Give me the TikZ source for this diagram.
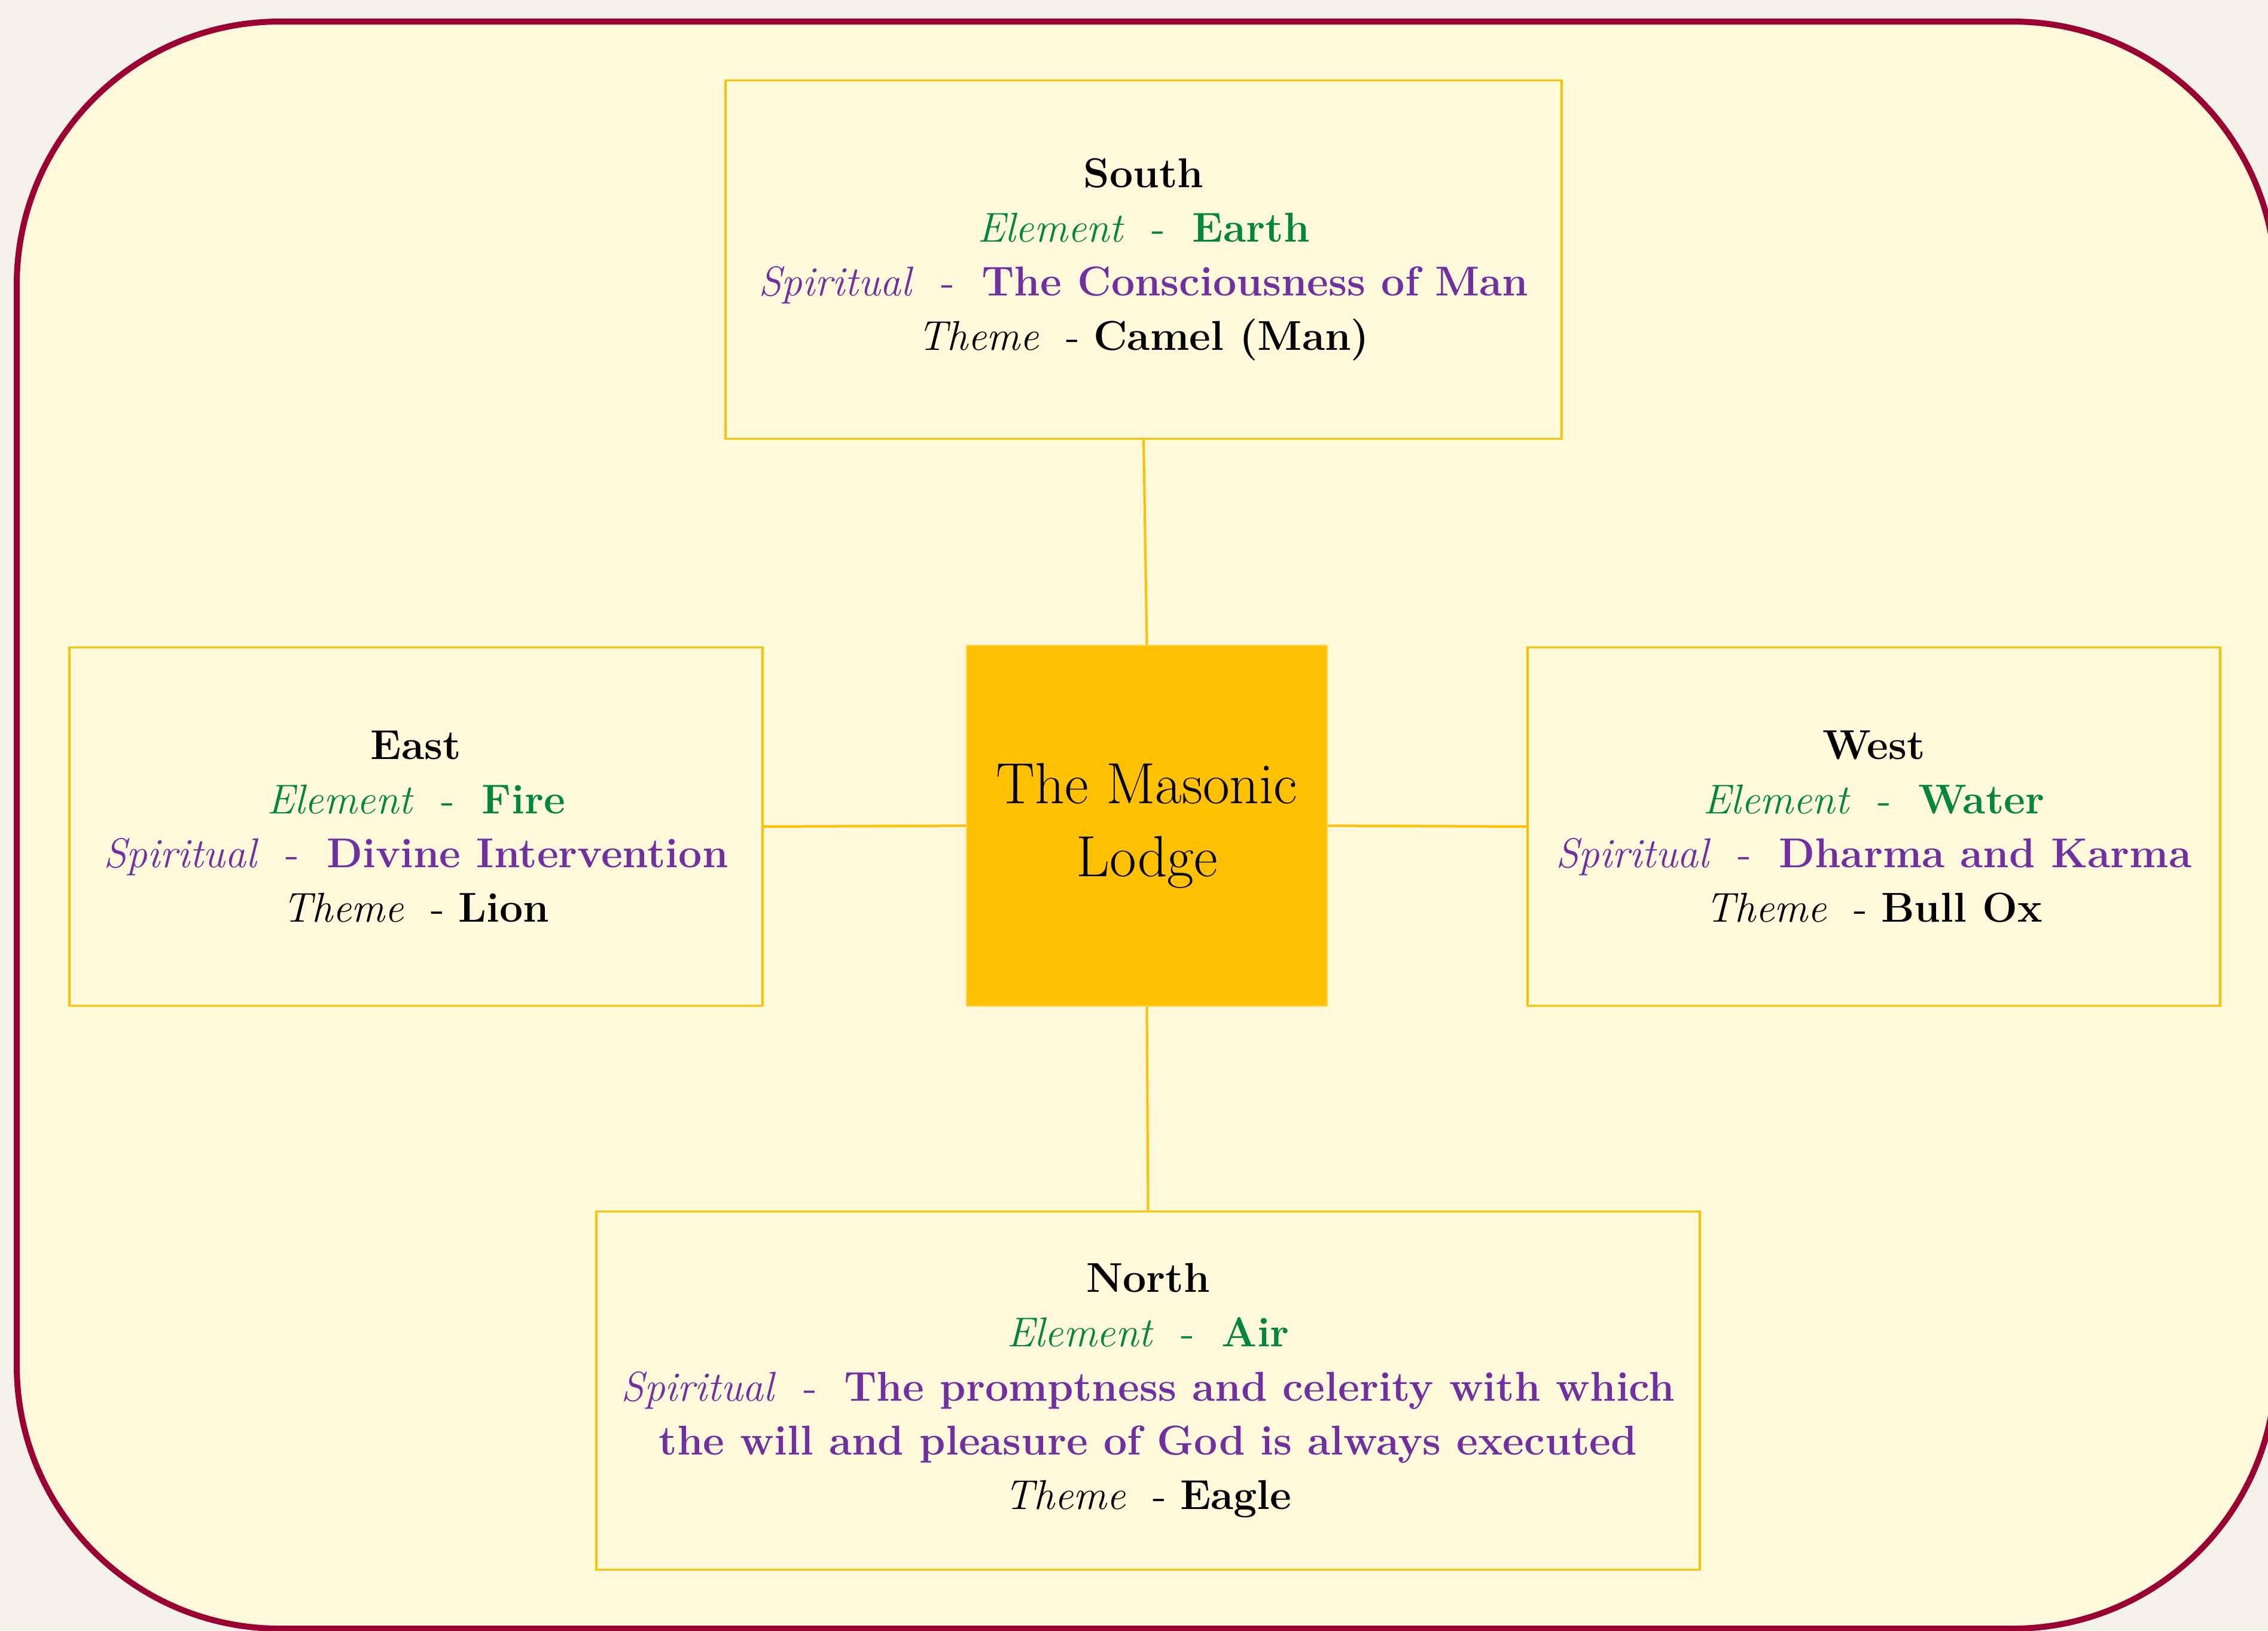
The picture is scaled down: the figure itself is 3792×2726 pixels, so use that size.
\documentclass[tikz,border=0pt]{standalone}
\definecolor{bgout}{HTML}{F4F1E9}
\definecolor{innerfill}{HTML}{FFF8DA}
\definecolor{framecol}{HTML}{9B0033}
\definecolor{gold}{HTML}{FFC000}
\definecolor{elgreen}{HTML}{00873C}
\definecolor{sppurple}{HTML}{7030A0}
\newcommand{\elline}[1]{{\color{elgreen}\textit{Element}\ \ -\ \ \textbf{#1}}}
\newcommand{\spline}[1]{{\color{sppurple}\textit{Spiritual}\ \ -\ \ \textbf{#1}}}
\newcommand{\thline}[1]{\textit{Theme}\ \ -\ \textbf{#1}}
\begin{document}
\begin{tikzpicture}[x=0.2bp,y=-0.2bp,
  sidebox/.style={draw=gold, line width=0.75bp, fill=innerfill, align=center,
    inner sep=0pt, minimum height=119.8bp,
    font=\fontsize{14}{18.2}\selectfont},
  hubbox/.style={draw=gold!70!white, line width=0.4bp, fill=gold, align=center,
    inner sep=0pt, minimum width=120.6bp, minimum height=120.6bp,
    font=\fontsize{19.5}{24.5}\selectfont},
  conn/.style={draw=gold, line width=0.8bp}]
\fill[bgout] (0,0) rectangle (3792,2726);
\useasboundingbox (0,0) rectangle (3792,2726);
\draw[framecol, line width=2bp, fill=innerfill, rounded corners=88bp] (28,36) rectangle (3805,2723);

\node[hubbox] (C) at (1917.5,1380.5) {The Masonic\\Lodge};

\node[sidebox, minimum width=279.6bp] (S) at (1912,434)
  {\textbf{South}\\\elline{Earth}\\\spline{The Consciousness of Man}\\\thline{Camel (Man)}};
\node[sidebox, minimum width=231.8bp] (E) at (695.5,1382)
  {\textbf{East}\\\elline{Fire}\\\spline{Divine Intervention}\\\thline{Lion}};
\node[sidebox, minimum width=231.6bp] (W) at (3133,1382)
  {\textbf{West}\\\elline{Water}\\\spline{Dharma and Karma}\\\thline{Bull Ox}};
\node[sidebox, minimum width=369bp] (N) at (1919.5,2325)
  {\textbf{North}\\\elline{Air}\\{\color{sppurple}\textit{Spiritual}\ \ -\ \ \textbf{The promptness and celerity with which}}\\{\color{sppurple}\textbf{the will and pleasure of God is always executed}}\\\thline{Eagle}};

\draw[conn] (S.south) -- (C.north);
\draw[conn] (C.south) -- (N.north);
\draw[conn] (E.east) -- (C.west);
\draw[conn] (C.east) -- (W.west);
\end{tikzpicture}
\end{document}
